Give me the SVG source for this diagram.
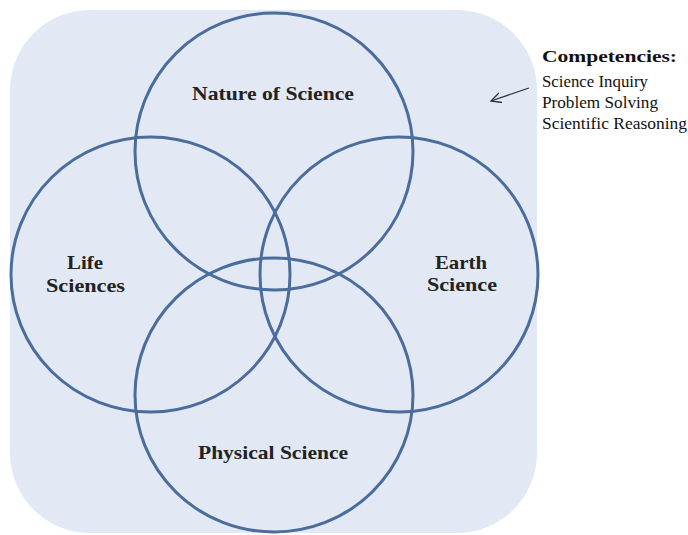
<svg xmlns="http://www.w3.org/2000/svg" width="688" height="535" viewBox="0 0 688 535">
<style>
.ring{fill:none;stroke:#4a6d9c;stroke-width:3}
.lbl{font-family:"Liberation Serif","Times New Roman",serif;font-weight:bold;font-size:19px;fill:#222;text-anchor:middle}
.cmp{font-family:"Liberation Serif","Times New Roman",serif;font-size:17px;fill:#111}
</style>
<defs>
<marker id="ah" markerWidth="12" markerHeight="12" refX="10" refY="5" orient="auto" markerUnits="userSpaceOnUse">
<path d="M0,0 L10,5 L0,10" fill="none" stroke="#333" stroke-width="1.3"/>
</marker>
</defs>
<rect id="bg" x="10" y="10" width="527" height="523" rx="80" ry="80" fill="#e3e9f4"/>
<g id="nature">
<ellipse class="ring" cx="274" cy="151.5" rx="139" ry="138.5"/>
<text class="lbl" x="273" y="100" textLength="162" lengthAdjust="spacingAndGlyphs">Nature of Science</text>
</g>
<g id="life">
<ellipse class="ring" cx="150.5" cy="274.5" rx="139.5" ry="137.5"/>
<text class="lbl" x="85" y="269" textLength="36" lengthAdjust="spacingAndGlyphs">Life</text>
<text class="lbl" x="85.5" y="292" textLength="79" lengthAdjust="spacingAndGlyphs">Sciences</text>
</g>
<g id="earth">
<ellipse class="ring" cx="399" cy="274.5" rx="139" ry="137.5"/>
<text class="lbl" x="461" y="269" textLength="52" lengthAdjust="spacingAndGlyphs">Earth</text>
<text class="lbl" x="462" y="291" textLength="70" lengthAdjust="spacingAndGlyphs">Science</text>
</g>
<g id="physical">
<ellipse class="ring" cx="274" cy="395" rx="139" ry="137"/>
<text class="lbl" x="273" y="459" textLength="150" lengthAdjust="spacingAndGlyphs">Physical Science</text>
</g>
<g id="competencies">
<text class="cmp" x="542" y="62" font-weight="bold" font-size="20" textLength="135" lengthAdjust="spacingAndGlyphs">Competencies:</text>
<text class="cmp" x="542" y="87" textLength="106" lengthAdjust="spacingAndGlyphs">Science  Inquiry</text>
<text class="cmp" x="542" y="108" textLength="116" lengthAdjust="spacingAndGlyphs">Problem  Solving</text>
<text class="cmp" x="542" y="129" textLength="145" lengthAdjust="spacingAndGlyphs">Scientific  Reasoning</text>
</g>
<g id="connectors">
<line x1="529" y1="88" x2="491" y2="101" stroke="#333" stroke-width="1.3" marker-end="url(#ah)"/>
</g>
</svg>
